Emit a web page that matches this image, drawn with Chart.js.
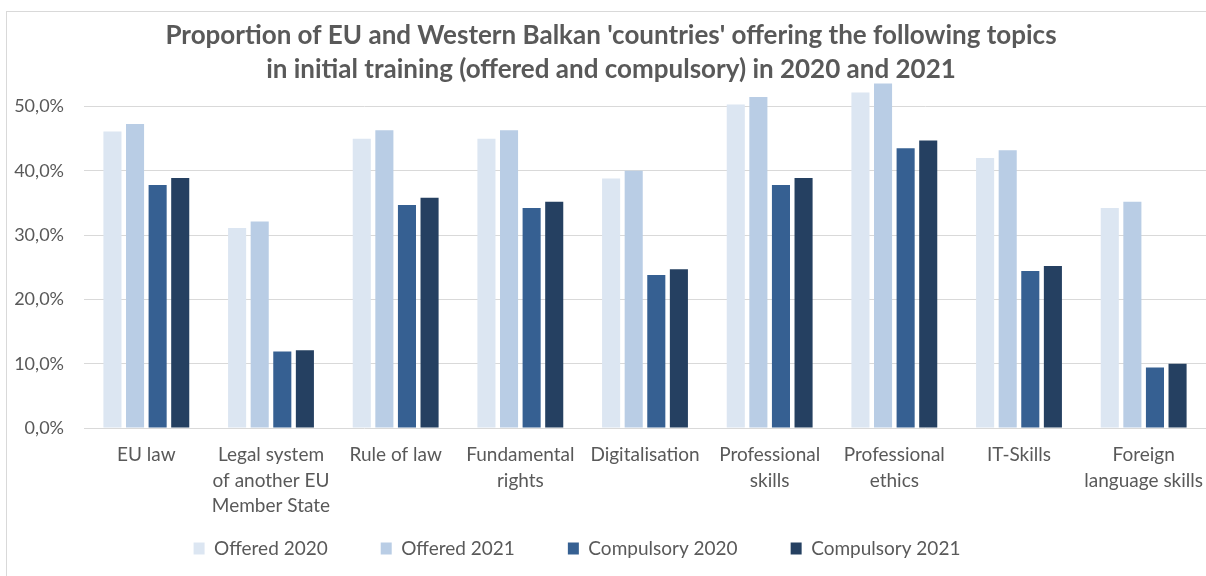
<!DOCTYPE html>
<html>
<head>
<meta charset="utf-8">
<script src="https://cdn.jsdelivr.net/npm/chart.js@4/dist/chart.umd.min.js"></script>
<style>
  html, body { margin: 0; padding: 0; background: #fff; overflow: hidden; }
  #frame { position: absolute; left: 6px; top: 11px; width: 1300px; height: 700px; border: 1px solid #d9d9d9; }
  #chartBox { position: absolute; left: 0; top: 0; width: 1223px; height: 576px; }
</style>
</head>
<body>
<div id="frame"></div>
<!-- the original chart runs a little past the right edge of the picture -->
<div id="chartBox"><canvas id="topicsChart" width="1223" height="576"></canvas></div>
<script>
// topics (multi-line labels as in the original)
const categories = [
  "EU law",
  ["Legal system", "of another EU", "Member State"],
  "Rule of law",
  ["Fundamental", "rights"],
  "Digitalisation",
  ["Professional", "skills"],
  ["Professional", "ethics"],
  "IT-Skills",
  ["Foreign", "language skills"],
];

// share of countries (fraction)
const offered2020    = [0.461, 0.311, 0.450, 0.450, 0.388, 0.503, 0.522, 0.420, 0.342];
const offered2021    = [0.473, 0.321, 0.463, 0.463, 0.400, 0.515, 0.536, 0.432, 0.352];
const compulsory2020 = [0.378, 0.119, 0.347, 0.342, 0.238, 0.378, 0.435, 0.244, 0.094];
const compulsory2021 = [0.389, 0.121, 0.358, 0.352, 0.247, 0.389, 0.447, 0.252, 0.100];

const yTicks = [0, 0.1, 0.2, 0.3, 0.4, 0.5];

const FONT = "Lato, 'Open Sans', sans-serif";
const GREY = "#595959";

// title is centred on the full chart, legend sits left of it in the original
const nudgeBoxes = {
  id: "nudgeBoxes",
  afterLayout(chart) {
    chart.titleBlock.left += 8;
    chart.titleBlock.right += 8;
    chart.legend.left -= 26;
    chart.legend.right -= 26;
  },
};

const ctx = document.getElementById("topicsChart").getContext("2d");
const topicsChart = new Chart(ctx, {
  type: "bar",
  data: {
    labels: categories,
    datasets: [
      { label: "Offered 2020", data: offered2020, backgroundColor: "#dce6f2" },
      { label: "Offered 2021", data: offered2021, backgroundColor: "#b9cde5" },
      { label: "Compulsory 2020", data: compulsory2020, backgroundColor: "#366092" },
      { label: "Compulsory 2021", data: compulsory2021, backgroundColor: "#254061" },
    ],
  },
  plugins: [nudgeBoxes],
  options: {
    responsive: false,
    animation: false,
    devicePixelRatio: 1,
    layout: { padding: { left: 0, right: 17, top: 0, bottom: 8 } },
    datasets: {
      bar: { categoryPercentage: 0.725, barPercentage: 0.8, clip: false, borderWidth: 0 },
    },
    plugins: {
      title: {
        display: true,
        text: [
          "Proportion of EU and Western Balkan 'countries' offering the following topics",
          "in initial training (offered and compulsory) in 2020 and 2021",
        ],
        color: GREY,
        font: { family: FONT, size: 26, weight: "bold", lineHeight: 1.3 },
        padding: { top: 19, bottom: 0 },
      },
      legend: {
        display: true,
        position: "bottom",
        labels: {
          color: GREY,
          font: { family: FONT, size: 19 },
          boxWidth: 11,
          boxHeight: 12,
          padding: 53,
        },
      },
      tooltip: { enabled: false },
    },
    scales: {
      x: {
        grid: { display: false, drawTicks: true, tickLength: 14 },
        border: { display: false },
        ticks: {
          color: GREY,
          font: { family: FONT, size: 19, lineHeight: 1.35 },
          padding: 0,
          maxRotation: 0,
          autoSkip: false,
        },
        afterFit: (scale) => {
          scale.height = 58;
          // labels run down into the legend's empty top band, so don't clip them
          scale._computeLabelArea = () => null;
        },
      },
      y: {
        min: 0,
        max: 0.531,
        grid: { color: "#d9d9d9", lineWidth: 1, drawTicks: false },
        border: { display: false },
        afterBuildTicks: (scale) => {
          scale.ticks = yTicks.map((v) => ({ value: v }));
        },
        afterFit: (scale) => { scale.width = 84; },
        ticks: {
          color: GREY,
          font: { family: FONT, size: 18 },
          padding: 20,
          callback: (v) => (v * 100).toFixed(1).replace(".", ",") + "%",
        },
      },
    },
  },
});
</script>
</body>
</html>
